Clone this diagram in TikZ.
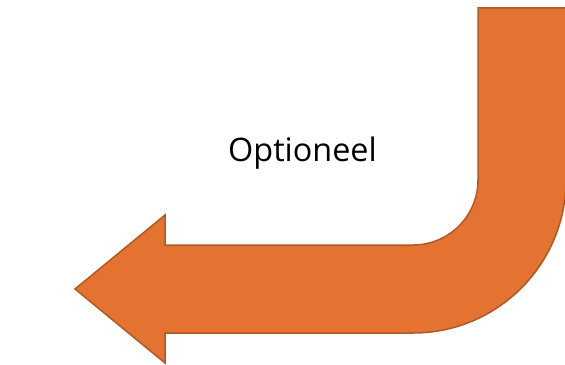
\documentclass[tikz,border=0pt]{standalone}
\usepackage{fontspec}
\setmainfont{Open Sans}
\definecolor{arrowfill}{RGB}{228,114,48}
\definecolor{arrowline}{RGB}{174,90,33}
\begin{document}
\begin{tikzpicture}[x=1bp,y=1bp]
\tikzstyle{bentarrow}=[fill=arrowfill, draw=arrowline, line width=1.5bp, line join=miter]
\useasboundingbox (0,0) rectangle (565,364);
\draw [bentarrow] (478,356) -- (566,356) -- (566,184)
  arc [start angle=0, end angle=-90, radius=153] -- (165,31) -- (165,1)
  -- (75,75) -- (165,149) -- (165,119) -- (413,119)
  arc [start angle=-90, end angle=0, radius=65] -- cycle;
\node (label) [anchor=base, inner sep=0pt] at (302.5,203) {\fontsize{32.5}{34}\selectfont Optioneel};
\end{tikzpicture}
\end{document}
